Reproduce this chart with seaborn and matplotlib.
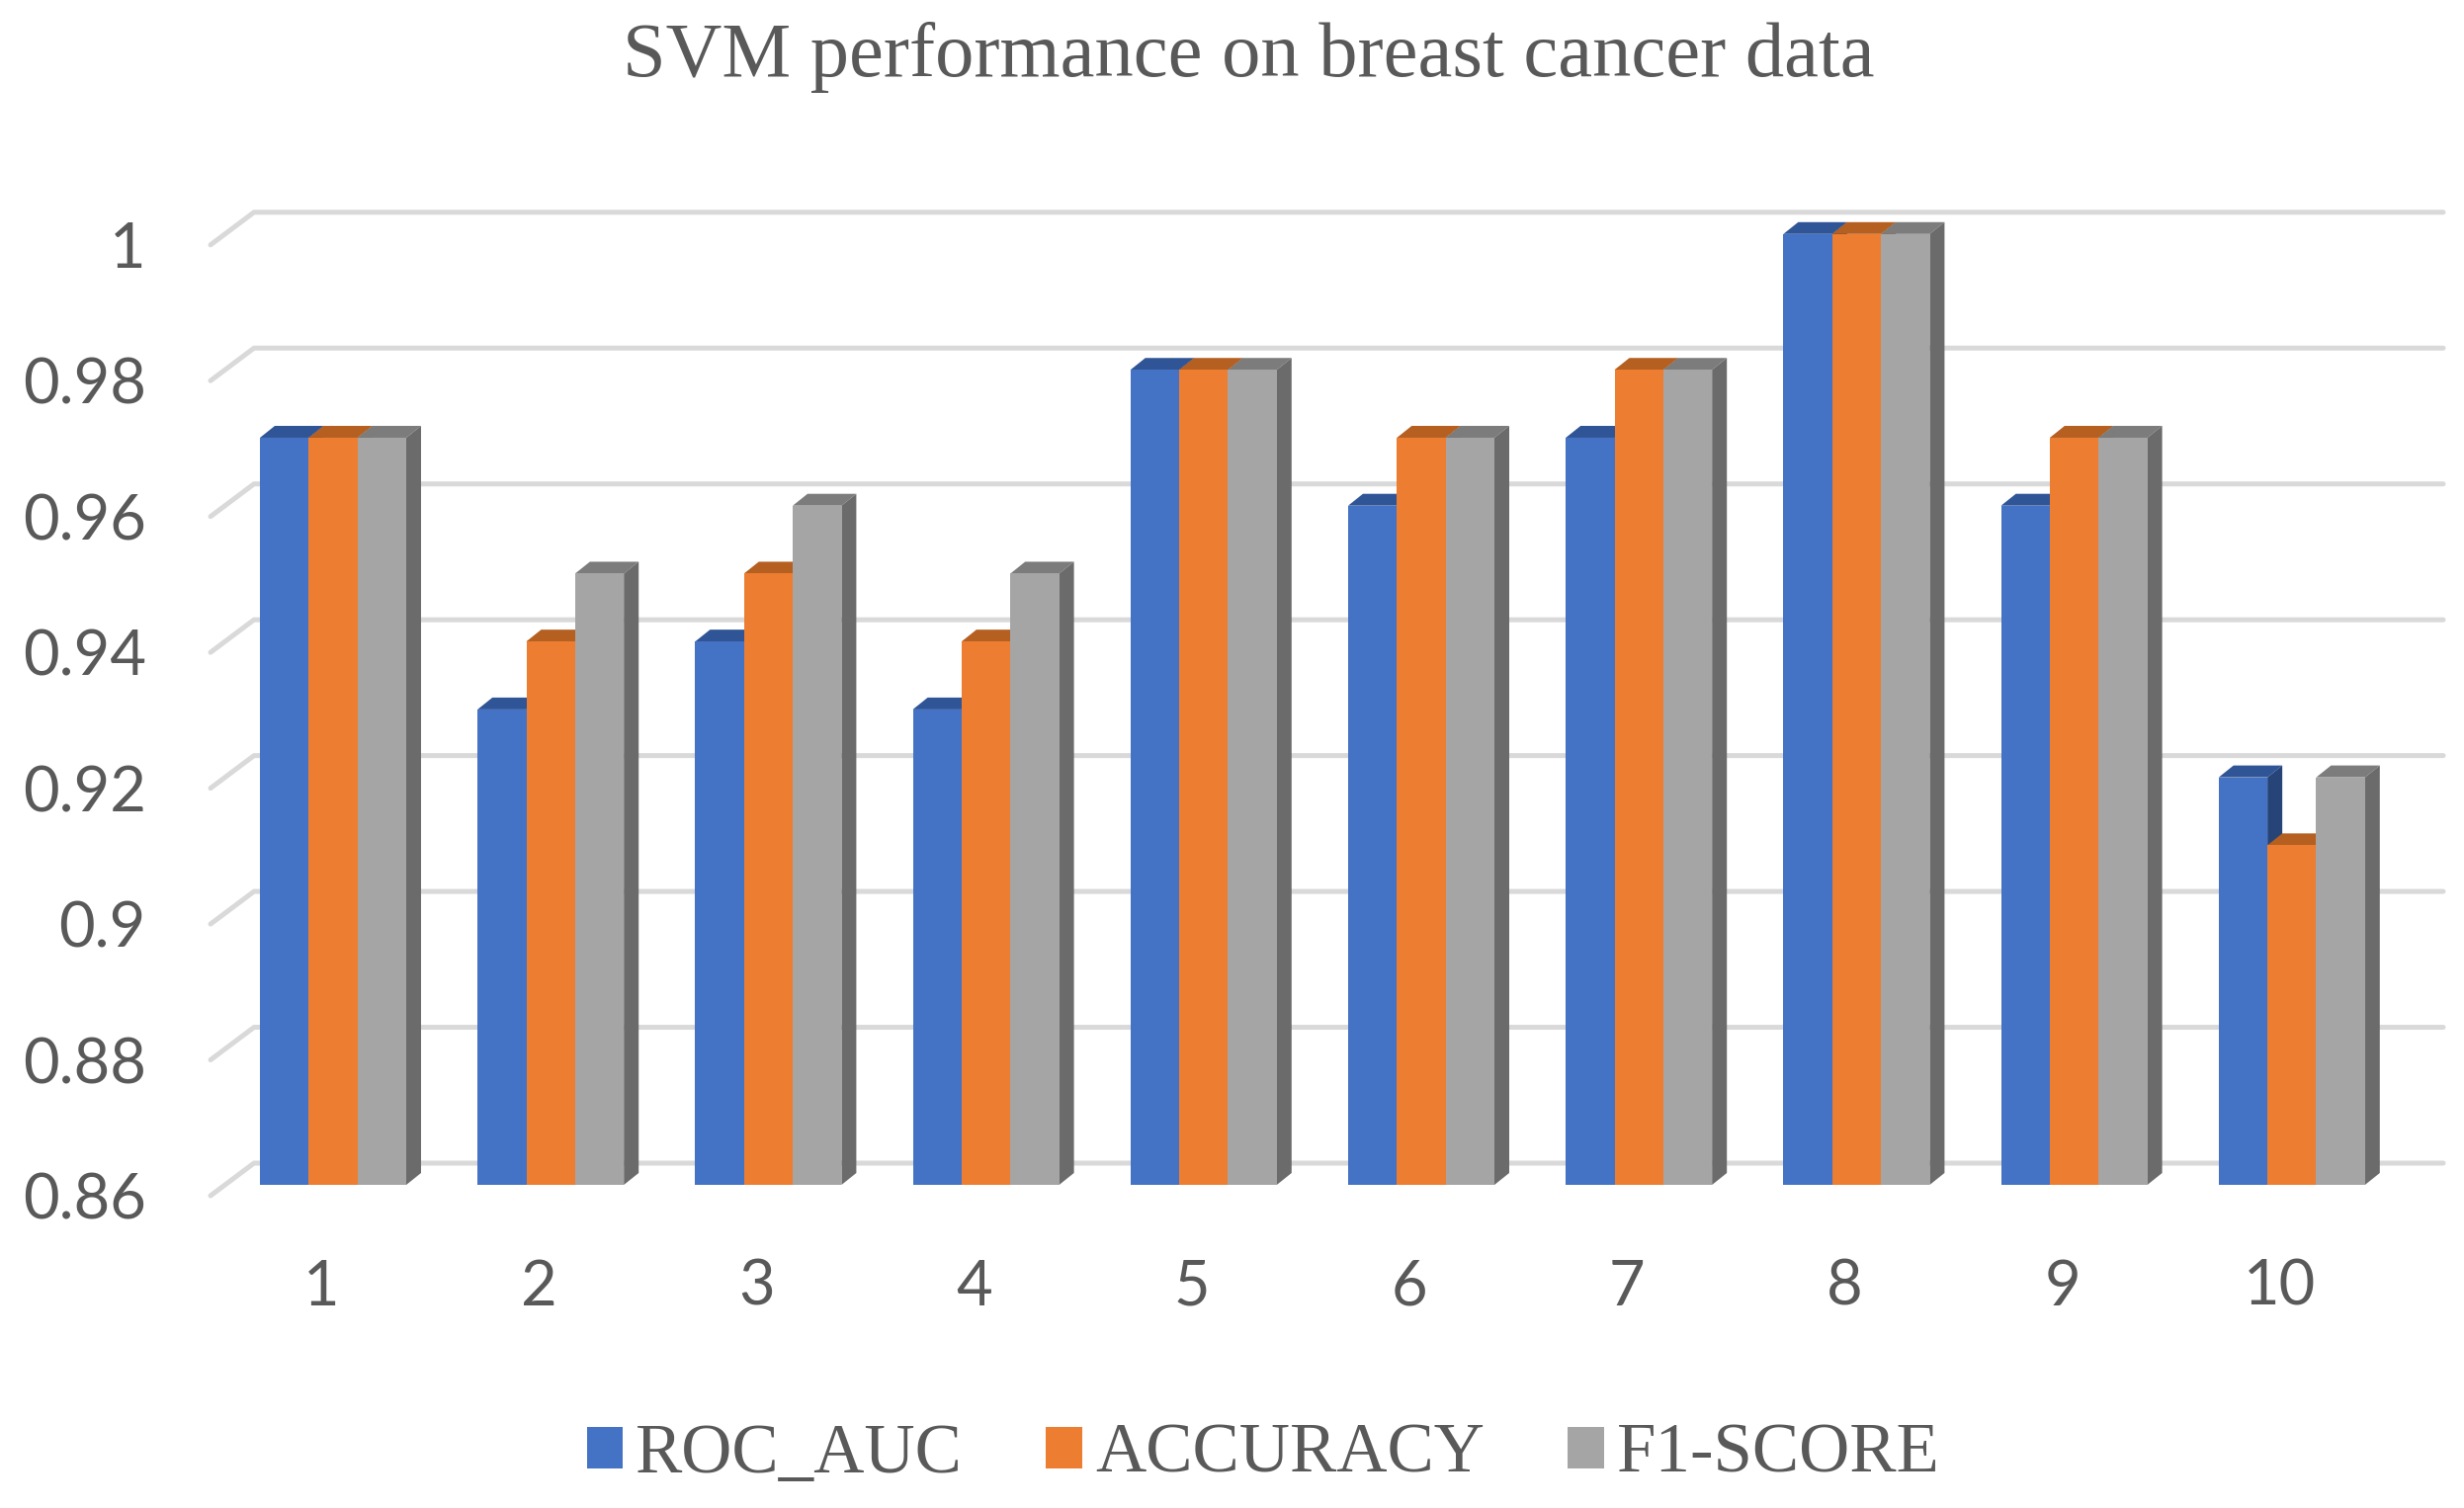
"""SVM performance on breast cancer data: grouped bars with a faux 3D look."""
import matplotlib
matplotlib.use("Agg")
import matplotlib.pyplot as plt
import matplotlib.transforms as mtrans
import pandas as pd
import seaborn as sns

RUNS = ["1", "2", "3", "4", "5", "6", "7", "8", "9", "10"]
ROC_AUC = [0.97, 0.93, 0.94, 0.93, 0.98, 0.96, 0.97, 1.00, 0.96, 0.92]
ACCURACY = [0.97, 0.94, 0.95, 0.94, 0.98, 0.97, 0.98, 1.00, 0.97, 0.91]
F1_SCORE = [0.97, 0.95, 0.96, 0.95, 0.98, 0.97, 0.98, 1.00, 0.97, 0.92]
METRICS = ["ROC_AUC", "ACCURACY", "F1-SCORE"]
Y_TICKS = [0.86, 0.88, 0.90, 0.92, 0.94, 0.96, 0.98, 1.00]
Y_LABELS = ["0.86", "0.88", "0.9", "0.92", "0.94", "0.96", "0.98", "1"]

FRONT = ["#4472C4", "#ED7D31", "#A5A5A5"]
TOP = ["#2F5597", "#B55F20", "#7C7C7C"]
SIDE = ["#264478", "#B55F20", "#6B6B6B"]
TEXT = "#595959"
GRID = "#D9D9D9"

W, H = 2493, 1526
BASE = 0.86
PX_PER_UNIT = 6873       # pixels for one unit of score
PITCH = 220.2            # pixels between groups
DEPTH_X, DEPTH_Y = 15, 12
LEFT, RIGHT, TOP_PX, BOTTOM_PX = 213, 2472, 200, 1210
FIRST_CENTER = 337


def main():
    df = pd.DataFrame({
        "run": RUNS * 3,
        "score": ROC_AUC + ACCURACY + F1_SCORE,
        "metric": [m for m in METRICS for _ in RUNS],
    })

    sns.set_theme(style="white")
    plt.rcParams["font.family"] = ["Lato", "DejaVu Sans"]

    fig = plt.figure(figsize=(W / 100, H / 100), dpi=100, facecolor="white")
    ax = fig.add_axes([LEFT / W, 1 - BOTTOM_PX / H,
                       (RIGHT - LEFT) / W, (BOTTOM_PX - TOP_PX) / H])

    sns.barplot(data=df, x="run", y="score", hue="metric", hue_order=METRICS,
                order=RUNS, palette=FRONT, width=148 / PITCH, gap=0,
                saturation=1, errorbar=None, linewidth=0, ax=ax)

    ax.set_xlim((LEFT - FIRST_CENTER) / PITCH, (RIGHT - FIRST_CENTER) / PITCH)
    ax.set_ylim(BASE - (BOTTOM_PX - 1199) / PX_PER_UNIT,
                BASE + (1199 - TOP_PX) / PX_PER_UNIT)

    dx = DEPTH_X / PITCH
    dy = DEPTH_Y / PX_PER_UNIT

    # bars start at the chart floor, then get a top and side face
    for i, container in enumerate(ax.containers):
        for bar in container:
            value = bar.get_height()
            bar.set_y(BASE)
            bar.set_height(value - BASE)
            bar.set_zorder(5 + 2 * i)
            x0, x1 = bar.get_x(), bar.get_x() + bar.get_width()
            ax.fill([x0, x0 + dx, x1 + dx, x1], [value, value + dy, value + dy, value],
                    color=TOP[i], lw=0, zorder=4 + 2 * i)
            ax.fill([x1, x1 + dx, x1 + dx, x1], [BASE, BASE + dy, value + dy, value],
                    color=SIDE[i], lw=0, zorder=4 + 2 * i)

    # gridlines run along the floor corner, then across the back wall
    x_front, x_back = ax.get_xlim()[0], (257 - FIRST_CENTER) / PITCH
    for tick in Y_TICKS:
        ax.plot([x_front, x_back, ax.get_xlim()[1]],
                [tick - 11 / PX_PER_UNIT, tick + 22 / PX_PER_UNIT, tick + 22 / PX_PER_UNIT],
                color=GRID, lw=3.6, solid_capstyle="round", solid_joinstyle="round",
                zorder=1, clip_on=False)

    ax.set_yticks(Y_TICKS, Y_LABELS)
    ax.set_xlabel("")
    ax.set_ylabel("")
    ax.tick_params(axis="y", length=0, pad=47, labelsize=45.5, labelcolor=TEXT)
    ax.tick_params(axis="x", length=0, pad=46, labelsize=45.5, labelcolor=TEXT)
    y_shift = mtrans.ScaledTranslation(0, -11 / 100, fig.dpi_scale_trans)
    for label in ax.get_yticklabels():
        label.set_transform(label.get_transform() + y_shift)
    x_shift = mtrans.ScaledTranslation(-12 / 100, 0, fig.dpi_scale_trans)
    for label in ax.get_xticklabels():
        label.set_transform(label.get_transform() + x_shift)
    sns.despine(ax=ax, left=True, bottom=True)

    serif = ["Liberation Serif", "DejaVu Serif"]
    fig.text(1263 / W, 1 - 58 / H, "SVM performance on breast cancer data",
             ha="center", va="center", family=serif, fontsize=56.5, color=TEXT)

    sns.move_legend(ax, "lower center", bbox_to_anchor=(1278 / W, 1 - 1505 / H),
                    bbox_transform=fig.transFigure, ncol=3, title=None, frameon=False,
                    prop={"family": serif, "size": 51}, labelcolor=TEXT,
                    handlelength=0.52, handleheight=0.52, handletextpad=0.18,
                    columnspacing=1.19, borderpad=0, borderaxespad=0)

    fig.savefig("out.png", dpi=100, facecolor="white")
    plt.close(fig)


if __name__ == "__main__":
    main()
